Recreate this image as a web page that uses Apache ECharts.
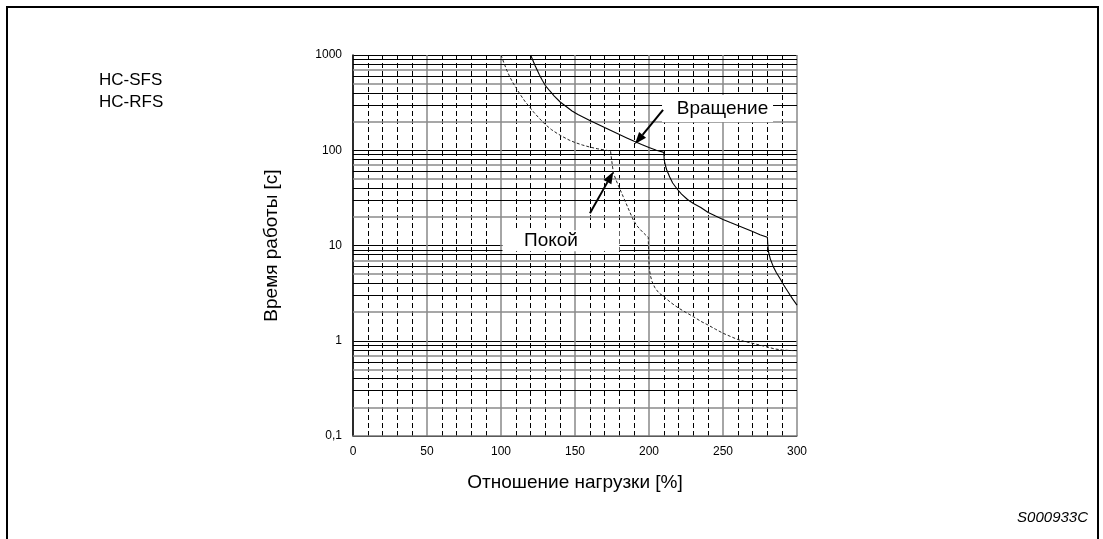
<!DOCTYPE html>
<html><head><meta charset="utf-8">
<script src="https://cdn.jsdelivr.net/npm/echarts@6/dist/echarts.min.js"></script>
<style>html,body{margin:0;padding:0;background:#fff}#c{width:1103px;height:539px}</style>
</head><body><div id="c"></div>
<script>
// Rotation ("Вращение") curve: load ratio [%] vs operating time [s]
const rotationLoad = [120, 123, 126, 128, 130, 133, 136, 140, 144, 148, 152, 156, 160, 165, 170, 175, 180, 185, 190, 195, 200, 205, 210,
  210.3, 211, 212, 214, 216, 219, 222, 226, 230, 235, 240, 245, 250, 255, 260, 265, 270, 275, 280,
  280.3, 280.8, 282, 284, 286, 288.5, 291, 294, 297, 300];
const rotationTime = [1000, 776, 617, 540, 478, 419, 371, 321, 288, 258, 237, 221, 205, 189, 173, 159, 146, 134.5, 124, 115, 107, 100, 95,
  79, 70, 62, 52.4, 45.3, 39.2, 34.7, 30.4, 27.6, 25.1, 22.2, 20.4, 18.8, 17.4, 16.2, 15.1, 14.0, 13.0, 12.2,
  10, 8.5, 7.2, 6.0, 5.2, 4.5, 3.85, 3.25, 2.75, 2.37];
// Standstill ("Покой") curve
const standstillLoad = [100, 102, 104, 106, 108, 110, 113, 116, 119, 122, 126, 130, 134, 138, 142, 146, 150, 155, 160, 165, 170, 174,
  174.5, 175.2, 176, 178, 180, 182.6, 185, 187, 189.4, 192, 195, 197.5, 199.5,
  199.7, 199.9, 200.3, 201, 202, 204, 206.5, 210, 215, 220, 225, 230, 235, 240, 245, 250, 255, 260, 265, 270, 275, 280, 285, 290, 295, 300];
const standstillTime = [1000, 824, 687, 587, 514, 456, 385, 329, 288, 252, 215, 186, 165, 150, 138, 128, 120.6, 113.5, 108, 103.8, 100.6, 98.2,
  85, 70, 57.3, 47.5, 40.2, 32.5, 26.6, 22.5, 18.5, 16.0, 14.2, 13.0, 12.2,
  9, 7, 5.6, 4.8, 4.2, 3.6, 3.2, 2.9, 2.5, 2.2, 1.98, 1.79, 1.6, 1.46, 1.32, 1.2, 1.11, 1.03, 0.98, 0.94, 0.9, 0.86, 0.82, 0.80, 0.79, 0.787];
// Y tick labels (log scale)
const yTickLabels = {0.1: '0,1', 1: '1', 10: '10', 100: '100', 1000: '1000'};
// Minor horizontal grid lines of the log paper
const minorLinesBlack = [0.9, 0.8, 0.6, 0.4, 0.3, 9, 8, 6, 4, 3, 90, 80, 60, 40, 30, 900, 800, 600, 400, 300];
const minorLinesGray = [0.7, 0.5, 0.2, 7, 5, 2, 70, 50, 20, 700, 500, 200];
// Annotation arrows [from, to] in data coordinates
const rotationArrow = [[209.5, 265], [190.5, 116]];
const standstillArrow = [[160.1, 21.8], [175.9, 59.6]];
// Annotation boxes [[x0, yTop], [x1, yBottom]] in data coordinates
const rotationBox = [[208.8, 380], [283.8, 198]];
const standstillBox = [[101, 14.5], [180, 8.7]];

const FONT = '"Liberation Sans", Arial, Helvetica, sans-serif';
const chart = echarts.init(document.getElementById('c'), null, {renderer: 'canvas'});

function zip(a, b) { return a.map((v, i) => [v, b[i]]); }

const option = {
  animation: false,
  backgroundColor: '#fff',
  grid: {left: 353, right: 306, top: 55, bottom: 103, containLabel: false},
  xAxis: {
    type: 'value', min: 0, max: 300, interval: 50,
    name: 'Отношение нагрузки [%]', nameLocation: 'middle', nameGap: 37,
    nameTextStyle: {fontFamily: FONT, fontSize: 19, color: '#000'},
    axisLine: {show: true, onZero: false, lineStyle: {color: '#777', width: 1.5}},
    axisTick: {show: false},
    axisLabel: {fontFamily: FONT, fontSize: 12, color: '#000', margin: 10},
    splitLine: {show: true, lineStyle: {color: '#888', width: 1.5}},
    minorTick: {show: false, splitNumber: 5},
    minorSplitLine: {show: true, lineStyle: {color: '#000', width: 1, type: [5, 3]}}
  },
  yAxis: {
    type: 'log', logBase: 10, min: 0.1, max: 1000,
    name: 'Время работы [с]', nameLocation: 'middle', nameGap: 72, nameRotate: 90,
    nameTextStyle: {fontFamily: FONT, fontSize: 19, color: '#000'},
    axisLine: {show: true, lineStyle: {color: '#000', width: 1.5}},
    axisTick: {show: false},
    axisLabel: {fontFamily: FONT, fontSize: 12, color: '#000', margin: 11,
      formatter: v => yTickLabels[+(+v).toPrecision(6)] || String(v).replace('.', ',')},
    splitLine: {show: true, lineStyle: {color: '#000', width: 1}},
    minorSplitLine: {show: false}
  },
  series: [
    {
      type: 'line', data: [], silent: true, z: 1,
      markLine: {
        silent: true, symbol: ['none', 'none'], animation: false,
        label: {show: false},
        data: minorLinesGray.map(v => ({yAxis: v, lineStyle: {color: '#8a8a8a', width: 1.5, type: 'solid'}}))
          .concat(minorLinesBlack.map(v => ({yAxis: v, lineStyle: {color: '#000', width: 1, type: 'solid'}})))
      }
    },
    {
      name: 'Вращение', type: 'line', data: zip(rotationLoad, rotationTime),
      showSymbol: false, smooth: false, z: 5,
      lineStyle: {color: '#000', width: 1.1}
    },
    {
      name: 'Покой', type: 'line', data: zip(standstillLoad, standstillTime),
      showSymbol: false, smooth: false, z: 5,
      lineStyle: {color: '#222', width: 1, type: [3, 2]}
    }
  ]
};
chart.setOption(option);

function px(p) { return chart.convertToPixel({gridIndex: 0}, p); }

const g = [];
// outer frame
g.push({type: 'rect', shape: {x: 7, y: 7, width: 1091, height: 560},
  style: {fill: 'none', stroke: '#000', lineWidth: 2}, z: 100});
// model names
g.push({type: 'text', left: 99, top: 69, style: {text: 'HC-SFS\nHC-RFS', font: '17px ' + FONT, fill: '#000', lineHeight: 22}, z: 100});
// drawing id
g.push({type: 'text', right: 15, top: 510, style: {text: 'S000933C', font: 'italic 15px ' + FONT, fill: '#000'}, z: 100});

function box(b, label, dx) {
  const a = px(b[0]), c = px(b[1]);
  g.push({type: 'rect', shape: {x: a[0], y: a[1], width: c[0] - a[0], height: c[1] - a[1]}, style: {fill: '#fff'}, z: 50});
  g.push({type: 'text', x: (a[0] + c[0]) / 2 + dx, y: (a[1] + c[1]) / 2,
    style: {text: label, font: '19px ' + FONT, fill: '#000', align: 'center', verticalAlign: 'middle'}, z: 51});
}
box(rotationBox, 'Вращение', 5);
box(standstillBox, 'Покой', -10);

// arrows
function arrow(a) {
  const p0 = px(a[0]), p1 = px(a[1]);
  const ang = Math.atan2(p1[1] - p0[1], p1[0] - p0[0]);
  const L = 12, W = 4.5;
  const bx = p1[0] - L * Math.cos(ang), by = p1[1] - L * Math.sin(ang);
  g.push({type: 'line', shape: {x1: p0[0], y1: p0[1], x2: bx, y2: by}, style: {stroke: '#000', lineWidth: 2}, z: 60});
  g.push({type: 'polygon', shape: {points: [p1,
    [bx + W * Math.sin(ang), by - W * Math.cos(ang)],
    [bx - W * Math.sin(ang), by + W * Math.cos(ang)]]}, style: {fill: '#000'}, z: 60});
}
arrow(rotationArrow);
arrow(standstillArrow);

chart.setOption({graphic: g});
</script>
</body></html>
